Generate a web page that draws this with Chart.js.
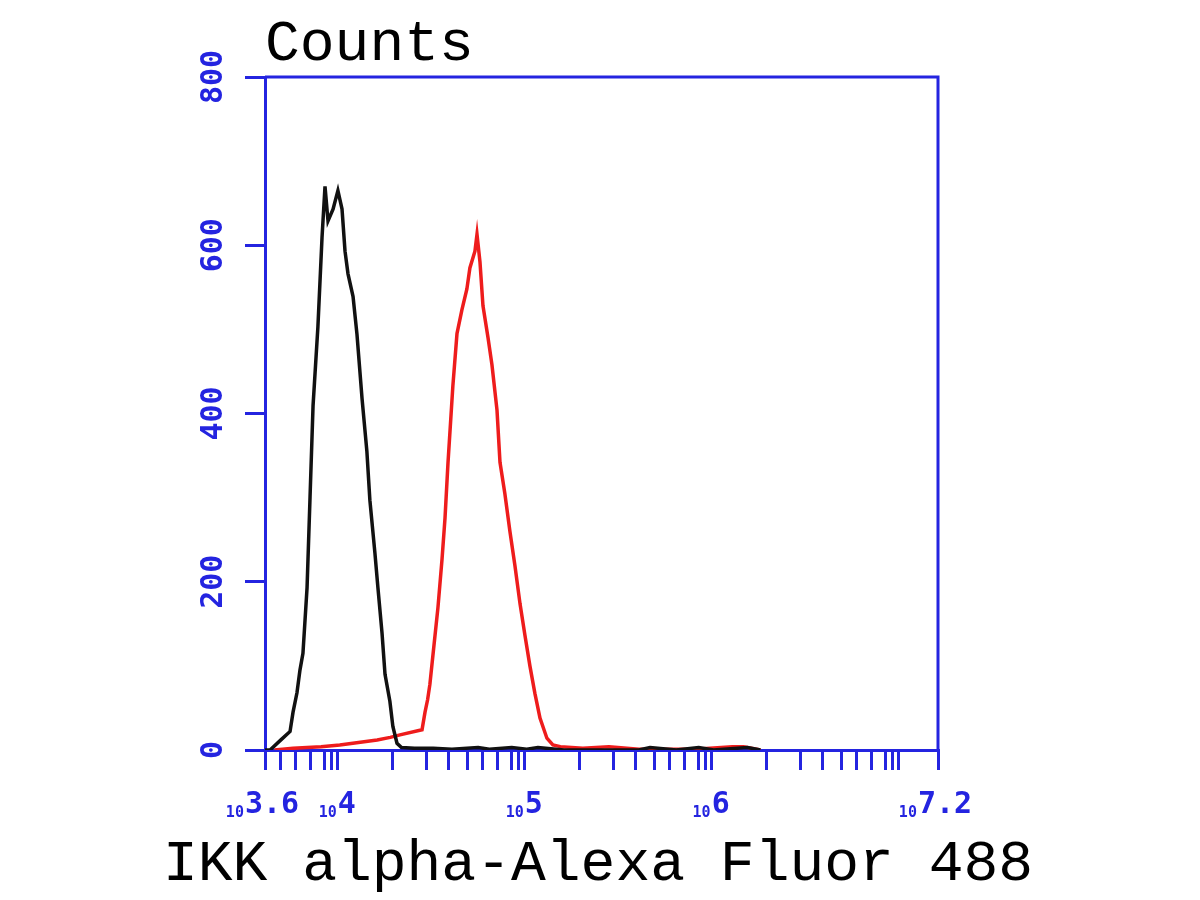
<!DOCTYPE html>
<html>
<head>
<meta charset="utf-8">
<script src="https://cdn.jsdelivr.net/npm/chart.js@4.4.0/dist/chart.umd.min.js"></script>
<style>
  html, body { margin: 0; background: #fff; }
</style>
</head>
<body>
<canvas id="chart" width="1200" height="900"></canvas>
<script>
// x values are log10 of the fluorescence channel, y values are counts
const blackX = [3.60, 3.627, 3.685, 3.734, 3.750, 3.771, 3.787, 3.803, 3.825, 3.841, 3.857, 3.883, 3.905, 3.921,
  3.937, 3.964, 3.990, 4.012, 4.028, 4.044, 4.071, 4.092, 4.119, 4.145, 4.161, 4.188, 4.204, 4.226, 4.242,
  4.268, 4.284, 4.306, 4.33, 4.40, 4.50, 4.60, 4.74, 4.80, 4.92, 5.00, 5.06, 5.20, 5.60, 5.66, 5.80, 5.92,
  6.00, 6.18, 6.25];
const blackY = [0, 0, 12, 22, 45, 68, 95, 115, 193, 301, 409, 503, 609, 670,
  629, 643, 665, 643, 593, 566, 539, 494, 418, 355, 297, 234, 193, 139, 90,
  58, 28, 8, 3, 2, 2, 1, 3, 1, 3, 1, 3, 0, 0, 3, 0, 3,
  0, 3, 0];

const redX = [3.65, 3.75, 3.90, 4.00, 4.10, 4.20, 4.27, 4.322, 4.44, 4.456, 4.47, 4.482, 4.498, 4.525, 4.547, 4.563,
  4.579, 4.605, 4.627, 4.653, 4.680, 4.696, 4.723, 4.734, 4.750, 4.766, 4.793, 4.814, 4.841, 4.857,
  4.883, 4.910, 4.937, 4.964, 4.990, 5.017, 5.044, 5.071, 5.108, 5.140, 5.18, 5.30, 5.44, 5.60, 5.90,
  6.10, 6.16, 6.25];
const redY = [0, 2, 4, 6, 9, 12, 15, 18, 24, 45, 60, 78, 112, 169, 227, 276,
  342, 433, 495, 523, 548, 573, 593, 613, 580, 528, 490, 458, 404, 342,
  305, 260, 219, 174, 137, 100, 67, 38, 14, 6, 4, 2, 4, 1, 1,
  4, 4, 0];

const yTicks = [0, 200, 400, 600, 800];
const xLabels = ["3.6", "4", "5", "6", "7.2"];
const tickMajors = [3.284, 4.284, 5.284, 6.284];
const tickOffsets = [0, 0.18, 0.30, 0.40, 0.48, 0.56, 0.635, 0.67, 0.705];

const BLUE = "#2424e0";

let xTicks = [3.6, 7.2];
tickMajors.forEach(m => {
  tickOffsets.forEach(o => {
    const v = m + o;
    if (v > 3.6 && v < 7.2) xTicks.push(v);
  });
});
xTicks.sort((a, b) => a - b);

function pts(xs, ys) {
  return xs.map((x, i) => ({ x: x, y: ys[i] }));
}

// box, tick labels and titles
const decor = {
  id: "decor",
  afterDraw(chart) {
    const ctx = chart.ctx;
    const a = chart.chartArea;
    const sx = chart.scales.x;
    const sy = chart.scales.y;

    ctx.save();
    ctx.strokeStyle = BLUE;
    ctx.lineWidth = 3;
    ctx.beginPath();
    ctx.moveTo(a.left, a.top);
    ctx.lineTo(a.right, a.top);
    ctx.lineTo(a.right, a.bottom);
    ctx.stroke();

    ctx.fillStyle = BLUE;
    ctx.font = "bold 30px 'DejaVu Sans Mono'";
    yTicks.forEach(v => {
      const py = sy.getPixelForValue(v);
      ctx.save();
      ctx.translate(222, py);
      ctx.rotate(-Math.PI / 2);
      ctx.textAlign = "center";
      ctx.textBaseline = "alphabetic";
      ctx.fillText(String(v), 0, 0);
      ctx.restore();
    });

    xLabels.forEach(e => {
      const px = sx.getPixelForValue(parseFloat(e));
      ctx.font = "bold 30px 'DejaVu Sans Mono'";
      ctx.textAlign = "left";
      const w = ctx.measureText(e).width;
      const left = px + 7 - w / 2;
      ctx.fillText(e, left, 813);
      ctx.font = "bold 15px 'DejaVu Sans Mono'";
      ctx.textAlign = "right";
      ctx.fillText("10", left - 1, 817);
    });

    ctx.fillStyle = "#000";
    ctx.font = "58px 'Liberation Mono'";
    ctx.textAlign = "left";
    ctx.fillText("Counts", 265, 60);
    ctx.textAlign = "center";
    ctx.fillText("IKK alpha-Alexa Fluor 488", 598, 880);
    ctx.restore();
  }
};

new Chart(document.getElementById("chart"), {
  type: "scatter",
  data: {
    datasets: [
      {
        data: pts(blackX, blackY),
        showLine: true,
        borderColor: "#111",
        borderWidth: 3.5,
        pointRadius: 0,
        tension: 0
      },
      {
        data: pts(redX, redY),
        showLine: true,
        borderColor: "#ee1c1c",
        borderWidth: 3.5,
        pointRadius: 0,
        tension: 0
      }
    ]
  },
  options: {
    responsive: false,
    devicePixelRatio: 1,
    animation: false,
    layout: { padding: { left: 245, right: 262, top: 77, bottom: 130 } },
    plugins: { legend: { display: false }, tooltip: { enabled: false } },
    scales: {
      x: {
        type: "linear",
        min: 3.6,
        max: 7.2,
        afterBuildTicks: s => { s.ticks = xTicks.map(v => ({ value: v })); },
        ticks: { display: false },
        grid: { drawOnChartArea: false, drawTicks: true, tickLength: 20, color: BLUE, lineWidth: 3 },
        border: { color: BLUE, width: 3 }
      },
      y: {
        min: 0,
        max: 800,
        afterBuildTicks: s => { s.ticks = yTicks.map(v => ({ value: v })); },
        ticks: { display: false },
        grid: { drawOnChartArea: false, drawTicks: true, tickLength: 20, color: BLUE, lineWidth: 3 },
        border: { color: BLUE, width: 3 }
      }
    }
  },
  plugins: [decor]
});
</script>
</body>
</html>
